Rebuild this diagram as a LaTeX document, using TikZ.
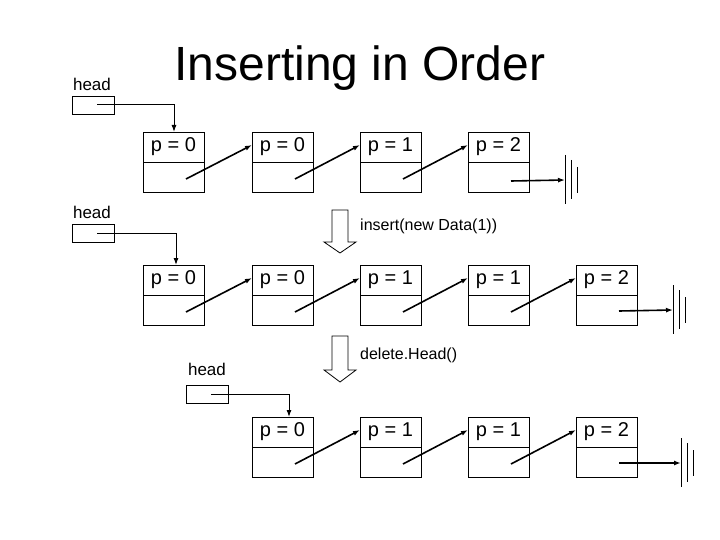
\documentclass[tikz,border=0pt]{standalone}
\usepackage{fontspec}
\setmainfont{Liberation Sans}
\usetikzlibrary{arrows.meta}
\begin{document}
\begin{tikzpicture}[x=1pt,y=-1pt,
  cell/.style={draw,line width=0.8pt,minimum width=61pt,minimum height=30pt,inner sep=0pt,outer sep=0pt,anchor=north west,font=\fontsize{20}{22}\selectfont},
  low/.style={draw,line width=0.8pt,minimum width=61pt,minimum height=30pt,inner sep=0pt,outer sep=0pt,anchor=north west},
  hbox/.style={draw,line width=0.8pt,minimum width=42pt,minimum height=18pt,inner sep=0pt,anchor=north west},
  lbl/.style={font=\fontsize{17}{18}\selectfont,inner sep=0pt},
  ptr/.style={line width=1.6pt,-{Latex[length=7pt,width=5pt]}},
  hptr/.style={line width=1pt,-{Latex[length=7pt,width=5pt]}}]
\useasboundingbox (0,0) rectangle (720,540);
\node[font=\fontsize{48}{50}\selectfont,inner sep=0pt] (title) at (360,68) {Inserting in Order};
% ground symbol
\newcommand{\gnd}[3]{\draw[line width=0.8pt] (#1,#2-25) -- (#1,#2+24) (#1+6,#2-20) -- (#1+6,#2+19) (#1+12,#2-13) -- (#1+12,#2+13);\coordinate (#3) at (#1,#2);}
% row 1
\node[lbl] (h1) at (92,84) {head};
\node[hbox] (hb1) at (72,96) {};
\foreach \i/\x/\t in {a/143/0,b/252/0,c/360/1,d/468/2}{
  \node[cell] (r1\i) at (\x,132) {p = \t};
  \node[low] (r1\i l) at (\x,162) {};
}
\draw[hptr] (97,105) -| (174,132);
\draw[ptr] (186,179) -- (252,145);
\draw[ptr] (295,179) -- (360,145);
\draw[ptr] (403,179) -- (468,145);
\gnd{565}{180}{g1}
\draw[ptr] (511,181) -- (g1);
% arrow 1
\draw[line width=0.8pt] (332,210) -- (348,210) -- (348,242) -- (356,242) -- (340,253) -- (324,242) -- (332,242) -- cycle;
\node[lbl,anchor=west,font=\fontsize{16}{18}\selectfont] (ins) at (360,226) {insert(new Data(1))};
% row 2
\node[lbl] (h2) at (92,212) {head};
\node[hbox] (hb2) at (72,224) {};
\foreach \i/\x/\t in {a/143/0,b/252/0,c/360/1,d/468/1,e/576/2}{
  \node[cell] (r2\i) at (\x,265) {p = \t};
  \node[low] (r2\i l) at (\x,295) {};
}
\draw[hptr] (97,233) -| (176,265);
\draw[ptr] (186,312) -- (252,278);
\draw[ptr] (295,312) -- (360,278);
\draw[ptr] (403,312) -- (468,278);
\draw[ptr] (511,312) -- (576,278);
\gnd{673}{310}{g2}
\draw[ptr] (619,311) -- (g2);
% arrow 2
\draw[line width=0.8pt] (332,336) -- (348,336) -- (348,370) -- (356,370) -- (340,382) -- (324,370) -- (332,370) -- cycle;
\node[lbl,anchor=west,font=\fontsize{16}{18}\selectfont] (del) at (360,355) {delete.Head()};
% row 3
\node[lbl] (h3) at (207,369) {head};
\node[hbox] (hb3) at (186,385) {};
\foreach \i/\x/\t in {a/252/0,b/360/1,c/468/1,d/576/2}{
  \node[cell] (r3\i) at (\x,417) {p = \t};
  \node[low] (r3\i l) at (\x,447) {};
}
\draw[hptr] (211,394) -| (289,417);
\draw[ptr] (295,464) -- (360,430);
\draw[ptr] (403,464) -- (468,430);
\draw[ptr] (511,464) -- (576,430);
\gnd{681}{463}{g3}
\draw[ptr] (619,463) -- (g3);
\end{tikzpicture}
\end{document}
